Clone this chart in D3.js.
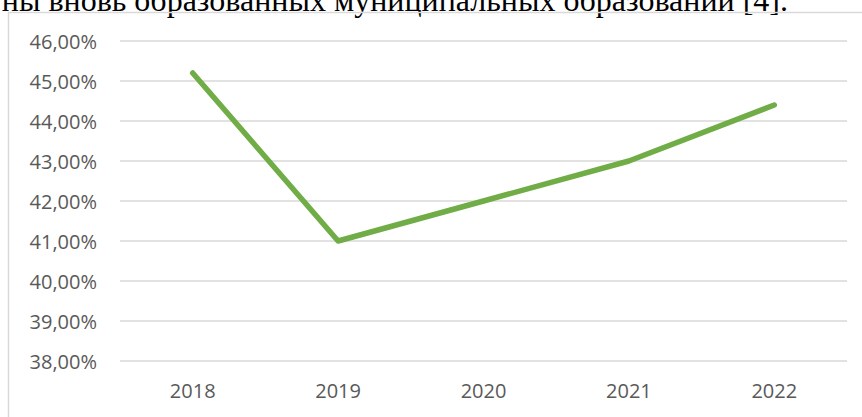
<!DOCTYPE html>
<html>
<head>
<meta charset="utf-8">
<script src="https://cdn.jsdelivr.net/npm/d3@7"></script>
<style>
  body { margin: 0; background: #fff; }
  svg { display: block; }
</style>
</head>
<body>
<div id="chart"></div>
<script>
const years = ['2018', '2019', '2020', '2021', '2022'];
const shares = [45.2, 41.0, 42.0, 43.0, 44.4];
const yTicks = [38, 39, 40, 41, 42, 43, 44, 45, 46];
const captionText = 'ны вновь образованных муниципальных образований [4].';

const W = 862, H = 417;
const margin = { top: 41, right: 15, bottom: 56, left: 120 }; // plot area 120..847, 41..361
const width = W - margin.left - margin.right;
const height = H - margin.top - margin.bottom;

const svg = d3.select('#chart')
  .append('svg')
  .attr('width', W)
  .attr('height', H);

// cut-off paragraph text from the document above the chart
svg.append('text')
  .attr('x', 788)
  .attr('y', 11)
  .attr('text-anchor', 'end')
  .attr('font-family', '"Liberation Serif", "Times New Roman", serif')
  .attr('font-size', '32px')
  .attr('fill', '#000')
  .text(captionText);

// chart frame (right and bottom edges fall outside the picture)
svg.append('path')
  .attr('d', `M8.5,${H + 5}V12.5H${W + 5}`)
  .attr('fill', 'none')
  .attr('stroke', '#d9d9d9')
  .attr('stroke-width', 1.5);

const g = svg.append('g')
  .attr('transform', `translate(${margin.left},${margin.top})`);

const x = d3.scaleBand()
  .domain(years)
  .range([0, width]);

const y = d3.scaleLinear()
  .domain([38, 46])
  .range([height, 0]);

// horizontal gridlines
g.selectAll('.grid')
  .data(yTicks)
  .enter()
  .append('line')
  .attr('class', 'grid')
  .attr('x1', 0)
  .attr('x2', width)
  .attr('y1', d => y(d))
  .attr('y2', d => y(d))
  .attr('stroke', '#d9d9d9')
  .attr('stroke-width', 1.5);

const fmt = d => d.toFixed(2).replace('.', ',') + '%';

const yAxis = g.append('g')
  .call(d3.axisLeft(y).tickValues(yTicks).tickFormat(fmt).tickSize(0).tickPadding(23));
yAxis.select('.domain').remove();
yAxis.selectAll('.tick text')
  .attr('font-family', '"Open Sans", sans-serif')
  .attr('font-size', '20px')
  .attr('fill', '#595959')
  .attr('dy', '0.35em');

const xAxis = g.append('g')
  .attr('transform', `translate(0,${height})`)
  .call(d3.axisBottom(x).tickSize(0).tickPadding(23));
xAxis.select('.domain').remove();
xAxis.selectAll('.tick text')
  .attr('font-family', '"Open Sans", sans-serif')
  .attr('font-size', '20px')
  .attr('fill', '#595959');

const line = d3.line()
  .x((d, i) => x(years[i]) + x.bandwidth() / 2)
  .y(d => y(d));

g.append('path')
  .datum(shares)
  .attr('d', line)
  .attr('fill', 'none')
  .attr('stroke', '#70ad47')
  .attr('stroke-width', 5.5)
  .attr('stroke-linecap', 'round')
  .attr('stroke-linejoin', 'round');
</script>
</body>
</html>
